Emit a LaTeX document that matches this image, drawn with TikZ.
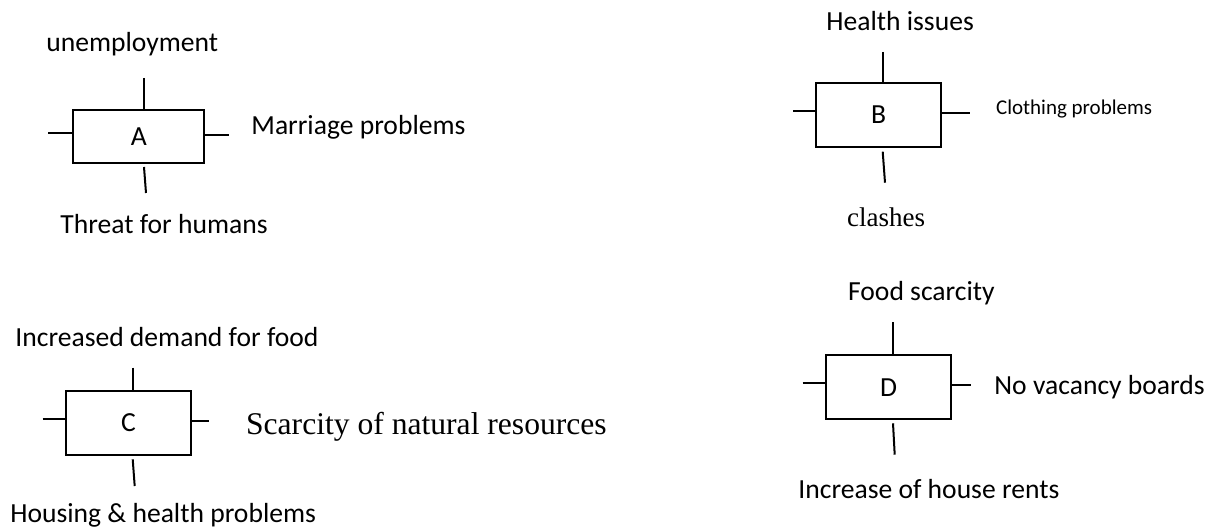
\documentclass[tikz,border=0pt]{standalone}
\usepackage{fontspec}
\setmainfont{Carlito}
\newfontfamily\serifface{Liberation Serif}
\begin{document}
\begin{tikzpicture}[x=0.5pt,y=-0.5pt,
  mainfont/.style={font=\fontsize{13.8}{16}\selectfont},
  box/.style={draw, line width=1pt, inner sep=0pt, mainfont},
  lbl/.style={inner sep=0pt, anchor=base west, mainfont},
  stub/.style={line width=1pt}]
\useasboundingbox (0,0) rectangle (1214,529);

% boxes
\node[box, minimum width=65.5pt, minimum height=26.7pt] (A) at (138.8,136.7) {A};
\node[box, minimum width=62.2pt, minimum height=32.2pt] (B) at (878.5,114.8) {B};
\node[box, minimum width=62.2pt, minimum height=32.2pt] (C) at (128.5,422.8) {C};
\node[box, minimum width=62.2pt, minimum height=32.2pt] (D) at (888.5,387.2) {D};

% stub end points
\coordinate (At) at (144,78);   \coordinate (Al) at (48,133);   \coordinate (Ar) at (229,135);
\coordinate (Ab1) at (144,167); \coordinate (Ab2) at (146,193);
\coordinate (Bt) at (883,52);   \coordinate (Bl) at (793,111);  \coordinate (Br) at (970,113);
\coordinate (Bb1) at (882.7,151.7); \coordinate (Bb2) at (885,182.7);
\coordinate (Ct) at (132.7,367.7); \coordinate (Cl) at (42.7,418.7); \coordinate (Cr) at (209.3,421);
\coordinate (Cb1) at (132.7,459.3); \coordinate (Cb2) at (134.7,486);
\coordinate (Dt) at (892.7,322); \coordinate (Dl) at (802.7,383); \coordinate (Dr) at (971,385.3);
\coordinate (Db1) at (893,423.3); \coordinate (Db2) at (894.7,454.7);

% stubs
\foreach \b in {A,B,C,D}{
  \draw[stub] (\b t) -- (\b t |- \b.north);
  \draw[stub] (\b l) -- (\b l -| \b.west);
  \draw[stub] (\b.east |- \b r) -- (\b r);
  \draw[stub] (\b b1) -- (\b b2);
}

% labels
\node[lbl] (tA) at (46,51.7) {unemployment};
\node[lbl] (rA) at (251,135) {Marriage problems};
\node[lbl] (bA) at (60,234) {Threat for humans};

\node[lbl] (tB) at (826,31) {Health issues};
\node[lbl, font=\fontsize{10.5}{12}\selectfont] (rB) at (995.7,115) {Clothing problems};
\node[lbl, font=\serifface\fontsize{13.5}{16}\selectfont] (bB) at (846.7,226.7) {clashes};

\node[lbl] (tC) at (15,346.7) {Increased demand for food};
\node[lbl, font=\serifface\fontsize{15.8}{18}\selectfont] (rC) at (245.7,434) {Scarcity of natural resources};
\node[lbl] (bC) at (10,522.7) {Housing \& health problems};

\node[lbl] (tD) at (847.7,300) {Food scarcity};
\node[lbl] (rD) at (994,394.3) {No vacancy boards};
\node[lbl] (bD) at (798,498.3) {Increase of house rents};
\end{tikzpicture}
\end{document}
